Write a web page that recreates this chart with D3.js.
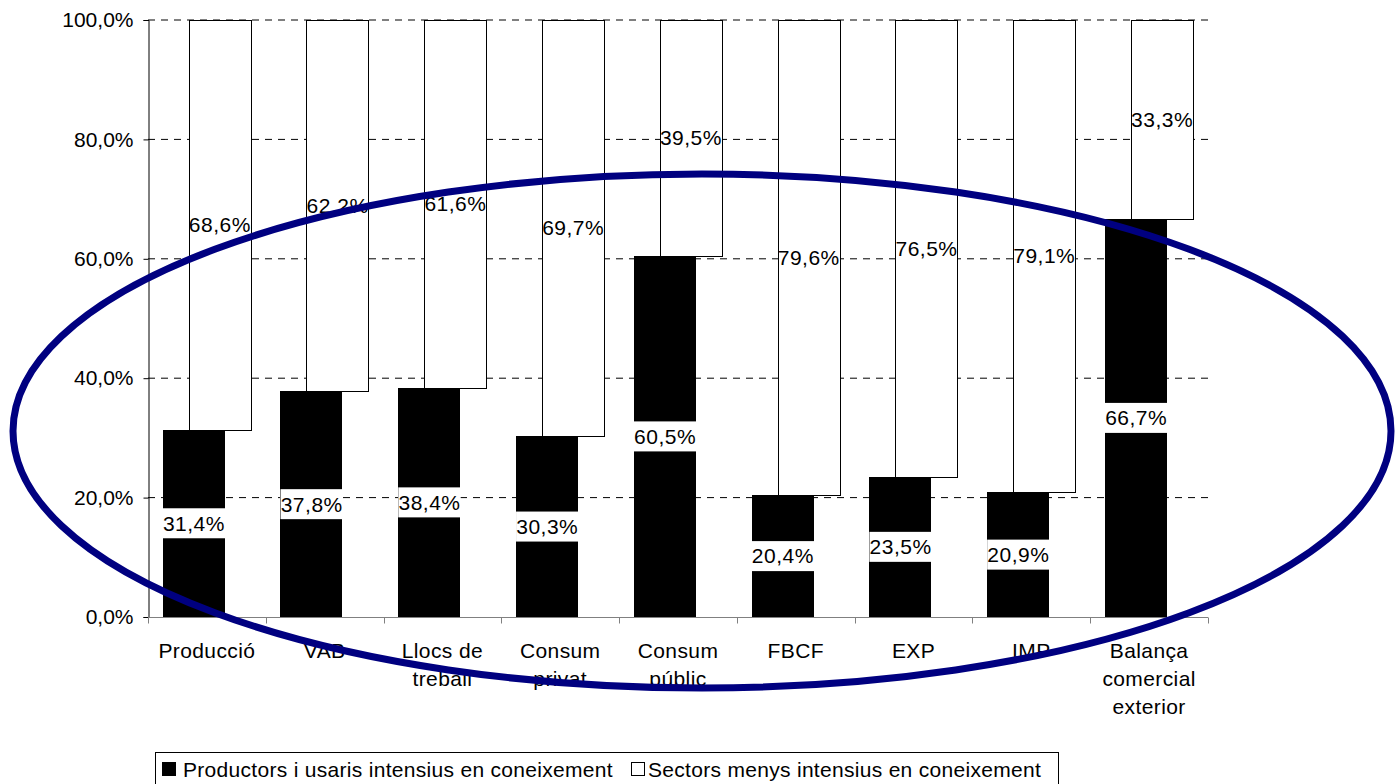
<!DOCTYPE html>
<html><head><meta charset="utf-8">
<script src="https://cdn.jsdelivr.net/npm/d3@7"></script>
<style>body{margin:0;background:#fff}svg{display:block}text{font-family:"Liberation Sans",Arial,sans-serif}</style>
</head><body>
<svg id="c" width="1396" height="784"></svg>
<script>
const categories = [["Producció"],["VAB"],["Llocs de","treball"],["Consum","privat"],["Consum","públic"],["FBCF"],["EXP"],["IMP"],["Balança","comercial","exterior"]];
const intensius = [31.4,37.8,38.4,30.3,60.5,20.4,23.5,20.9,66.7];
const menys = [68.6,62.2,61.6,69.7,39.5,79.6,76.5,79.1,33.3];
const yTicks = [0,20,40,60,80,100];
const seriesNames = ["Productors i usaris intensius en coneixement","Sectors menys intensius en coneixement"];

const svg = d3.select("#c");
const x = d3.scaleBand().domain(d3.range(categories.length)).range([148,1208]).padding(0);
const y = d3.scaleLinear().domain([0,100]).range([617,20]);
const bw = x.bandwidth();
const barW = bw*0.53, off = bw*0.22;
const fmt = v => v.toFixed(1).replace(".",",")+"%";

// gridlines
svg.append("g").selectAll("line").data(yTicks.filter(d=>d>0)).join("line")
  .attr("x1",148).attr("x2",1208).attr("y1",d=>y(d)).attr("y2",d=>y(d))
  .attr("stroke","#000").attr("stroke-width",1).attr("stroke-dasharray","7,6");

// y axis
const ya = svg.append("g").attr("transform","translate(148.5,0)")
  .call(d3.axisLeft(y).tickValues(yTicks).tickSize(5).tickFormat(d=>d.toFixed(1).replace(".",",")+"%"));
ya.select(".domain").attr("stroke","#000");
ya.selectAll("text").attr("font-size",21).attr("fill","#000").attr("x",-15).attr("font-family","Liberation Sans, Arial, sans-serif");

// x axis
const xa = svg.append("g").attr("transform","translate(0,617.5)");
xa.append("line").attr("x1",148).attr("x2",1208).attr("stroke","#808080");
xa.selectAll("line.t").data(d3.range(categories.length+1)).join("line").attr("class","t")
  .attr("x1",i=>Math.round(148+i*bw)+0.5).attr("x2",i=>Math.round(148+i*bw)+0.5).attr("y1",0).attr("y2",6).attr("stroke","#808080");
const lab = xa.selectAll("text.c").data(categories).join("text").attr("class","c")
  .attr("text-anchor","middle").attr("font-size",21).attr("letter-spacing",0.4).attr("fill","#000");
lab.each(function(lines,i){
  const t = d3.select(this);
  lines.forEach((l,j)=>t.append("tspan").attr("x",x(i)+bw/2).attr("y",40+j*28).text(l));
});

// white bars
const cx = i => x(i)+bw/2;
svg.append("g").selectAll("rect").data(menys).join("rect")
  .attr("x",(d,i)=>Math.round(cx(i)-barW/2+off/2)+0.5)
  .attr("y",(d,i)=>Math.round(y(intensius[i]+d))+0.5)
  .attr("width",Math.round(barW))
  .attr("height",(d,i)=>Math.round(y(intensius[i]))-Math.round(y(intensius[i]+d)))
  .attr("fill","#fff").attr("stroke","#000").attr("stroke-width",1);
// black bars
svg.append("g").selectAll("rect").data(intensius).join("rect")
  .attr("x",(d,i)=>Math.round(cx(i)-barW/2-off/2))
  .attr("y",d=>Math.round(y(d)))
  .attr("width",Math.round(barW))
  .attr("height",d=>617-Math.round(y(d)))
  .attr("fill","#000");

// labels white series
svg.append("g").selectAll("text").data(menys).join("text")
  .attr("x",(d,i)=>cx(i)+off/2).attr("y",(d,i)=>y(intensius[i]+d/2))
  .attr("dy","0.35em").attr("text-anchor","middle").attr("font-size",21).attr("letter-spacing",0.5).attr("fill","#000").text(fmt);
// labels black series with white box
const bl = svg.append("g").selectAll("g").data(intensius).join("g")
  .attr("transform",(d,i)=>`translate(${cx(i)-off/2},${y(d/2)})`);
bl.append("rect").attr("x",-barW/2).attr("y",-15).attr("width",barW).attr("height",30).attr("fill","#fff");
bl.append("text").attr("dy","0.35em").attr("text-anchor","middle").attr("font-size",21).attr("letter-spacing",0.5).attr("fill","#000").text(fmt);

// ellipse
svg.append("ellipse").attr("cx",702).attr("cy",431).attr("rx",689).attr("ry",257)
  .attr("fill","none").attr("stroke","#000080").attr("stroke-width",7);

// legend
const lg = svg.append("g");
lg.append("rect").attr("x",155.5).attr("y",752.5).attr("width",903).attr("height",40).attr("fill","#fff").attr("stroke","#000");
lg.append("rect").attr("x",162).attr("y",762).attr("width",14).attr("height",14).attr("fill","#000");
lg.append("text").attr("x",183).attr("y",777).attr("font-size",21).attr("letter-spacing",0.3).attr("fill","#000").text(seriesNames[0]);
lg.append("rect").attr("x",631.5).attr("y",762.5).attr("width",13).attr("height",13).attr("fill","#fff").attr("stroke","#000");
lg.append("text").attr("x",648).attr("y",777).attr("font-size",21).attr("letter-spacing",0.3).attr("fill","#000").text(seriesNames[1]);
</script>
</body></html>
